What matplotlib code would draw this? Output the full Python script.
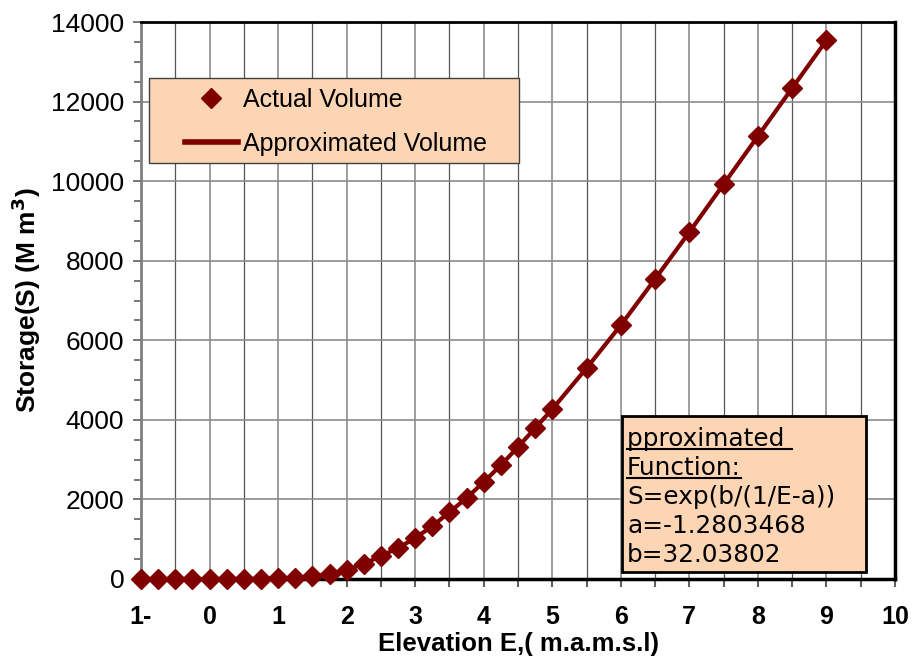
""" Storage-elevation curve: actual volume vs approximated function."""

import matplotlib.pyplot as plt
import matplotlib.ticker as mticker
from matplotlib.lines import Line2D

plt.rcParams.update({"font.family": ["Liberation Sans", "DejaVu Sans"]})

# elevation (m.a.m.s.l) and storage (M m3)
elevation = [-1.0, -0.75, -0.5, -0.25, 0.0, 0.25, 0.5, 0.75, 1.0, 1.25, 1.5,
             1.75, 2.0, 2.25, 2.5, 2.75, 3.0, 3.25, 3.5, 3.75, 4.0, 4.25, 4.5,
             4.75, 5.0, 5.5, 6.0, 6.5, 7.0, 7.5, 8.0, 8.5, 9.0]
storage = [0, 0, 0, 0, 0, 1, 2, 5, 15, 35, 70, 130, 230, 380, 580, 780, 1030,
           1330, 1680, 2035, 2440, 2860, 3320, 3790, 4270, 5300, 6380, 7540,
           8720, 9925, 11130, 12340, 13540]

x_ticks = [-1, 0, 1, 2, 3, 4, 5, 6, 7, 8, 9, 10]
x_labels = ["1-", "0", "1", "2", "3", "4", "5", "6", "7", "8", "9", "10"]
y_ticks = [0, 2000, 4000, 6000, 8000, 10000, 12000, 14000]

box_lines = ["S=exp(b/(1/E-a))", "a=-1.2803468", "b=32.03802"]

dark_red = "#800000"
peach = "#fcd5b4"
W, H = 913, 661

fig = plt.figure(figsize=(9.13, 6.61), dpi=100)
ax = fig.add_axes([141 / W, 1 - 579 / H, 754 / W, 557 / H])

ax.plot(elevation, storage, color=dark_red, lw=3, zorder=3)
ax.plot(elevation, storage, ls="none", marker="D", ms=10.5, color=dark_red,
        zorder=4, clip_on=False)

ax.set_xlim(-1, 10)
ax.set_ylim(0, 14000)
ax.set_xticks(x_ticks)
ax.set_xticklabels(x_labels, fontweight="bold", fontsize=18)
ax.xaxis.set_minor_locator(mticker.MultipleLocator(0.5))
ax.set_yticks(y_ticks)
ax.set_yticklabels([str(v) for v in y_ticks], fontsize=19)
ax.yaxis.set_minor_locator(mticker.MultipleLocator(500))
ax.tick_params(axis="both", which="both", direction="out", color="#606060")
ax.tick_params(axis="x", which="both", length=6, width=1.5, pad=13)
ax.tick_params(axis="y", which="major", length=6, width=1.2, pad=6)
ax.tick_params(axis="y", which="minor", length=5, width=1.2)

ax.grid(which="major", axis="both", color="#8c8c8c", lw=1.2)
ax.grid(which="minor", axis="x", color="#555555", lw=0.9)
ax.set_axisbelow(True)

ax.spines["left"].set_color("#808080")
ax.spines["left"].set_linewidth(2)
for side in ["bottom", "right"]:
    ax.spines[side].set_color("black")
    ax.spines[side].set_linewidth(2.5)
ax.spines["top"].set_color("black")
ax.spines["top"].set_linewidth(2)

ax.set_xlabel("Elevation E,( m.a.m.s.l)", fontweight="bold", fontsize=18.5,
              labelpad=2)
ax.set_ylabel("Storage(S) (M m$^\\mathbf{3}$)", fontweight="bold",
              fontsize=19, labelpad=6)

# legend: peach box drawn behind a frameless legend
ax.add_patch(plt.Rectangle((149 / W, 1 - 163 / H), 370 / W, 85 / H,
                           transform=fig.transFigure, facecolor=peach,
                           edgecolor="#404040", lw=1, zorder=5,
                           clip_on=False))
handles = [Line2D([], [], ls="none", marker="D", ms=10, color=dark_red),
           Line2D([], [], color=dark_red, lw=4)]
leg = ax.legend(handles, ["Actual Volume", "Approximated Volume"],
                loc="upper left", bbox_to_anchor=(185 / W, 1 - 88 / H),
                bbox_transform=fig.transFigure, fontsize=18, frameon=False,
                handlelength=2.1, handletextpad=0.2, borderpad=0,
                borderaxespad=0, labelspacing=0.78)
leg.set_zorder(6)

# function box with underlined heading
ax.add_patch(plt.Rectangle((622 / W, 1 - 572 / H), 244 / W, 156 / H,
                           transform=fig.transFigure, facecolor=peach,
                           edgecolor="black", lw=2, zorder=5, clip_on=False))
heading = ["pproximated ", "Function:"]
texts = []
for i, line in enumerate(heading + box_lines):
    t = fig.text(627 / W, 1 - (439 + i * 29) / H, line, fontsize=17.8,
                 family="DejaVu Sans", va="center", ha="left", zorder=6)
    texts.append(t)

fig.canvas.draw()
renderer = fig.canvas.get_renderer()
for t in texts[:2]:
    bb = t.get_window_extent(renderer)
    yl = bb.y0 + 2
    fig.add_artist(Line2D([bb.x0 / W, bb.x1 / W], [yl / H, yl / H],
                          transform=fig.transFigure, color="black", lw=1.5,
                          zorder=7))

fig.savefig("out.png", dpi=100)
